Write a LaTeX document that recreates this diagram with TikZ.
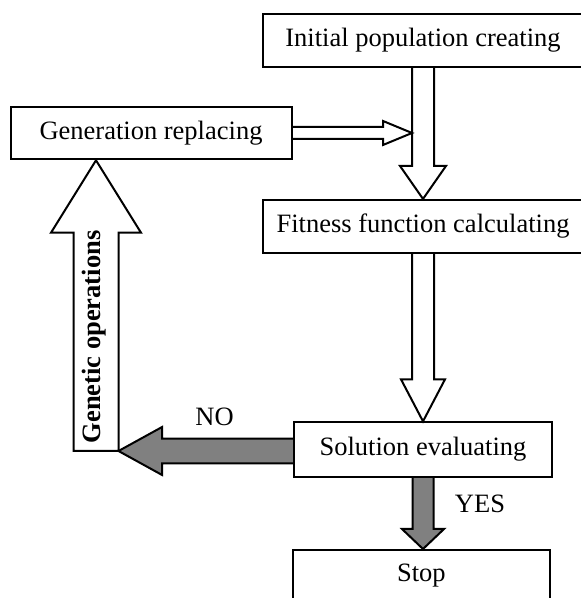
\documentclass[tikz,border=0pt]{standalone}
\usepackage{fontspec}
\setmainfont{Liberation Serif}
\usepackage{tikz}
\usetikzlibrary{calc,backgrounds}
\definecolor{arrowgrey}{RGB}{128,128,128}
\newcommand{\figfont}{\fontsize{13.25pt}{16pt}\selectfont}
\tikzset{
  box/.style={draw=black, line width=1pt, fill=white, inner sep=0pt, font=\figfont},
  lbl/.style={inner sep=0pt, font=\figfont},
  hollowarrow/.style={draw=black, line width=1pt, line join=miter},
  greyarrow/.style={draw=black, line width=1pt, fill=arrowgrey, line join=miter}
}

\begin{document}
\begin{tikzpicture}[x=0.5pt, y=0.5pt]
    \useasboundingbox (0,0) rectangle (580,598);
    % boxes
    \node[box, minimum width=160pt, minimum height=26.35pt] (init) at (423,557.7) {Initial population creating};
    \node[box, minimum width=140.5pt, minimum height=26.3pt] (gen) at (151,465) {Generation replacing};
    \node[box, minimum width=160pt, minimum height=26.35pt] (fit) at (423,371.7) {Fitness function calculating};
    \node[box, minimum width=129pt, minimum height=27.15pt] (sol) at (423,148.5) {Solution evaluating};
    \node[box, minimum width=128.65pt, minimum height=26pt] (stop) at (421.4,22) {Stop};
    \node[lbl] (no) at (214.6,180.7) {NO};
    \node[lbl] (yes) at (480,94) {YES};
    \node[lbl, rotate=90, font=\figfont\bfseries] (genop) at (94.3,261) {Genetic operations};

    % white arrows
    \draw[hollowarrow] ($(init.south)+(-11,0)$) -- ($(fit.north)+(-11,33)$) -- ($(fit.north)+(-23,33)$) -- (fit.north)
        -- ($(fit.north)+(23,33)$) -- ($(fit.north)+(11,33)$) -- ($(init.south)+(11,0)$);
    \path ($(init.south)+(-11,0)$) coordinate (shaftl);
    \coordinate (join) at (shaftl |- gen.east);
    \draw[hollowarrow] ($(gen.east)+(0,6)$) -- ($(join)+(-29,6)$) -- ($(join)+(-29,12)$) -- (join)
        -- ($(join)+(-29,-12)$) -- ($(join)+(-29,-6)$) -- ($(gen.east)+(0,-6)$);
    \draw[hollowarrow] ($(fit.south)+(-11,0)$) -- ($(sol.north)+(-11,42)$) -- ($(sol.north)+(-22,42)$) -- (sol.north)
        -- ($(sol.north)+(22,42)$) -- ($(sol.north)+(11,42)$) -- ($(fit.south)+(11,0)$);
    \coordinate (gbot) at (96,147);
    \coordinate (gtip) at (gbot |- gen.south);
    \draw[hollowarrow] ($(gbot)+(-22.5,0)$) -- ($(gtip)+(-22.5,-72.4)$) -- ($(gtip)+(-45,-72.4)$) -- (gtip)
        -- ($(gtip)+(45,-72.4)$) -- ($(gtip)+(22.5,-72.4)$) -- ($(gbot)+(22.5,0)$) -- cycle;

    % grey arrows
    \begin{scope}[on background layer]
    \coordinate (notip) at ($(gbot)+(22.5,0)$);
    \path ($(notip)+(43.6,12.3)$) coordinate (nohu) ($(notip)+(43.6,-12.3)$) coordinate (nohd);
    \draw[greyarrow] (sol.west |- nohu) -- (nohu) -- ($(nohu)+(0,11.7)$) -- (notip)
        -- ($(nohd)+(0,-11.7)$) -- (nohd) -- (sol.west |- nohd);
    \coordinate (yestip) at (sol.south |- stop.north);
    \draw[greyarrow] ($(sol.south)+(-10.5,0)$) -- ($(yestip)+(-10.5,20)$) -- ($(yestip)+(-21,20)$) -- (yestip)
        -- ($(yestip)+(21,20)$) -- ($(yestip)+(10.5,20)$) -- ($(sol.south)+(10.5,0)$);
    \end{scope}
\end{tikzpicture}
\end{document}
